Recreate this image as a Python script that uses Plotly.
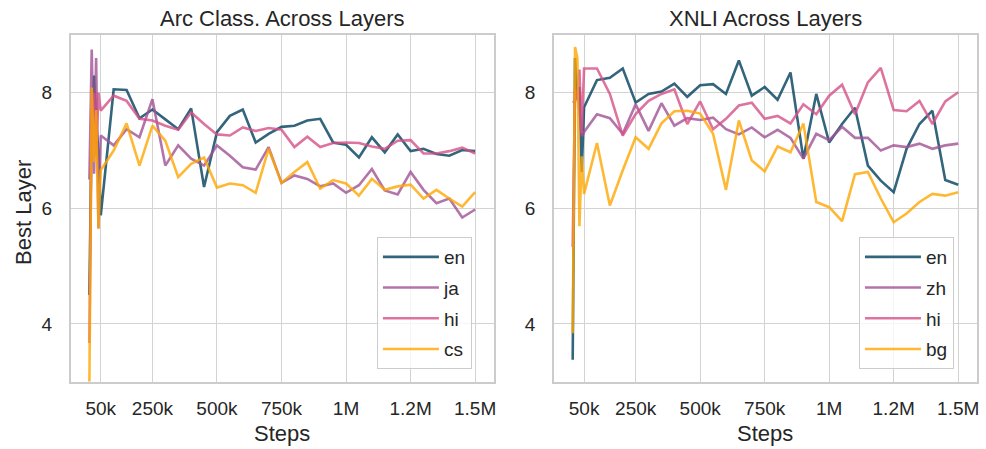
import plotly.graph_objects as go

# ---------------- data ----------------
steps = [6000, 15000, 24000, 32000, 41000,
         50000, 100000, 150000, 200000, 250000, 300000, 350000, 400000, 450000, 500000,
         550000, 600000, 650000, 700000, 750000, 800000, 850000, 900000, 950000, 1000000,
         1050000, 1100000, 1150000, 1200000, 1250000, 1300000, 1350000, 1400000, 1450000, 1500000]

arc_en = [4.5, 7.6, 8.3, 7.5, 7.0,
          5.88, 8.06, 8.05, 7.56, 7.71, 7.54, 7.37, 7.73, 6.37, 7.32, 7.60, 7.71, 7.14, 7.29, 7.41,
          7.43, 7.52, 7.55, 7.14, 7.10, 6.88, 7.23, 6.97, 7.28, 6.99, 7.03, 6.94, 6.91, 7.01, 6.99]
arc_ja = [6.5, 8.75, 6.6, 8.6, 5.65,
          7.26, 7.09, 7.37, 7.23, 7.89, 6.74, 7.09, 6.86, 6.74, 7.09, 6.91, 6.71, 6.67, 7.06, 6.44,
          6.57, 6.51, 6.38, 6.43, 6.27, 6.40, 6.68, 6.31, 6.24, 6.63, 6.32, 6.09, 6.17, 5.84, 5.98]
arc_hi = [3.67, 7.7, 8.0, 6.9, 8.0,
          7.69, 7.95, 7.86, 7.55, 7.52, 7.43, 7.36, 7.66, 7.46, 7.28, 7.26, 7.40, 7.34, 7.39, 7.36,
          7.06, 7.24, 7.06, 7.13, 7.14, 7.13, 7.07, 7.03, 7.17, 7.18, 6.95, 6.95, 6.99, 7.05, 6.95]
arc_cs = [3.0, 8.09, 6.8, 7.7, 5.65,
          6.66, 7.00, 7.47, 6.74, 7.43, 7.17, 6.54, 6.77, 6.88, 6.36, 6.43, 6.40, 6.27, 7.03, 6.44,
          6.63, 6.80, 6.34, 6.49, 6.43, 6.22, 6.51, 6.32, 6.38, 6.41, 6.17, 6.32, 6.17, 6.03, 6.28]

xnli_en = [3.38, 8.6, 7.9, 8.1, 6.63,
           7.75, 8.22, 8.26, 8.42, 7.83, 7.98, 8.02, 8.16, 7.93, 8.13, 8.15, 7.98, 8.56, 7.95, 8.10,
           7.88, 8.35, 6.86, 7.98, 7.14, 7.46, 7.74, 6.74, 6.48, 6.28, 7.03, 7.46, 7.69, 6.49, 6.41]
xnli_zh = [7.83, 7.85, 8.0, 7.7, 7.25,
           7.32, 7.63, 7.56, 7.29, 7.80, 7.34, 7.82, 7.43, 7.56, 7.53, 7.57, 7.37, 7.28, 7.40, 7.23,
           7.36, 7.22, 6.86, 7.29, 7.18, 7.41, 7.22, 7.22, 7.00, 7.09, 7.06, 7.12, 7.03, 7.09, 7.12]
xnli_hi = [5.33, 8.05, 7.9, 8.4, 7.3,
           8.42, 8.42, 7.98, 7.26, 7.63, 7.86, 7.98, 8.06, 7.46, 7.85, 7.37, 7.55, 7.78, 7.83, 7.55,
           7.60, 7.47, 7.80, 7.63, 7.95, 8.14, 7.63, 8.18, 8.43, 7.70, 7.68, 7.86, 7.46, 7.85, 8.01]
xnli_bg = [3.84, 8.79, 8.6, 5.69, 6.9,
           6.25, 7.13, 6.05, 6.66, 7.23, 7.03, 7.47, 7.68, 7.69, 7.64, 7.29, 6.32, 7.52, 6.83, 6.64,
           7.07, 6.97, 7.47, 6.11, 6.02, 5.78, 6.59, 6.63, 6.17, 5.76, 5.91, 6.11, 6.25, 6.22, 6.28]

tick_vals = [50000, 250000, 500000, 750000, 1000000, 1250000, 1500000]
tick_text = ["50k", "250k", "500k", "750k", "1M", "1.2M", "1.5M"]
y_ticks = [4, 6, 8]

colors = {
    "en": "rgba(0,63,92,0.8)",
    "ja": "rgba(160,81,149,0.8)",
    "zh": "rgba(160,81,149,0.8)",
    "hi": "rgba(212,80,135,0.8)",
    "cs": "rgba(255,166,0,0.8)",
    "bg": "rgba(255,166,0,0.8)",
}

FONT = "Liberation Sans, Arial, sans-serif"
TXT = "#262626"

fig = go.Figure()

left = [("en", arc_en), ("ja", arc_ja), ("hi", arc_hi), ("cs", arc_cs)]
right = [("en", xnli_en), ("zh", xnli_zh), ("hi", xnli_hi), ("bg", xnli_bg)]

for name, vals in left:
    fig.add_trace(go.Scatter(x=steps, y=vals, mode="lines", name=name,
                             line=dict(color=colors[name], width=2.6),
                             xaxis="x", yaxis="y", legend="legend",
                             legendgroup="L" + name))
for name, vals in right:
    fig.add_trace(go.Scatter(x=steps, y=vals, mode="lines", name=name,
                             line=dict(color=colors[name], width=2.6),
                             xaxis="x2", yaxis="y2", legend="legend2",
                             legendgroup="R" + name))

W, H = 986, 449
ax_top, ax_bot = 35, 381.7
L_x0, L_x1 = 70.7, 495
R_x0, R_x1 = 555, 979
ydom = [1 - ax_bot / H, 1 - ax_top / H]

common_x = dict(range=[-67000, 1573000], tickvals=tick_vals, ticktext=tick_text,
                showgrid=True, gridcolor="#d3d3d3", gridwidth=1.4, zeroline=False,
                showline=True, mirror=True, linecolor="#cccccc", linewidth=1.6,
                ticks="", tickfont=dict(size=19, color=TXT, family=FONT),
                ticklabelstandoff=9)
common_y = dict(range=[3.0, 9.0], tickvals=y_ticks, domain=ydom,
                showgrid=True, gridcolor="#d3d3d3", gridwidth=1.4, zeroline=False,
                showline=True, mirror=True, linecolor="#cccccc", linewidth=1.6,
                ticks="", tickfont=dict(size=19, color=TXT, family=FONT),
                ticklabelstandoff=13)

legend_common = dict(xanchor="left", yanchor="top", bgcolor="rgba(255,255,255,0.8)",
                     bordercolor="#cccccc", borderwidth=1,
                     font=dict(size=19, color=TXT, family=FONT),
                     tracegroupgap=3, itemwidth=56)

fig.update_layout(
    width=W, height=H,
    margin=dict(l=0, r=0, t=0, b=0),
    paper_bgcolor="white", plot_bgcolor="white",
    font=dict(family=FONT, color=TXT),
    xaxis=dict(domain=[L_x0 / W, L_x1 / W], anchor="y", **common_x),
    yaxis=dict(anchor="x", **common_y),
    xaxis2=dict(domain=[R_x0 / W, R_x1 / W], anchor="y2", **common_x),
    yaxis2=dict(anchor="x2", **common_y),
    legend=dict(x=377.7 / W, y=1 - 237 / H, **legend_common),
    legend2=dict(x=860.7 / W, y=1 - 237 / H, **legend_common),
    showlegend=True,
)

# titles and axis labels
annots = [
    dict(text="Arc Class. Across Layers", x=(L_x0 + L_x1) / 2 / W, y=1 - ax_top / H,
         xanchor="center", yanchor="bottom", yshift=2, font=dict(size=22)),
    dict(text="XNLI Across Layers", x=(R_x0 + R_x1) / 2 / W, y=1 - ax_top / H,
         xanchor="center", yanchor="bottom", yshift=2, font=dict(size=22)),
    dict(text="Steps", x=(L_x0 + L_x1) / 2 / W, y=1 - 433 / H,
         xanchor="center", yanchor="middle", font=dict(size=22)),
    dict(text="Steps", x=(R_x0 + R_x1) / 2 / W, y=1 - 433 / H,
         xanchor="center", yanchor="middle", font=dict(size=22)),
    dict(text="Best Layer", x=23 / W, y=1 - 212 / H, textangle=-90,
         xanchor="center", yanchor="middle", font=dict(size=22)),
]
for a in annots:
    a.update(xref="paper", yref="paper", showarrow=False)
    a["font"].update(family=FONT, color=TXT)
    fig.add_annotation(**a)

fig.write_html("out.html",
               config={"displayModeBar": False},
               post_script="document.body.style.margin='0';document.body.style.overflow='hidden';")
